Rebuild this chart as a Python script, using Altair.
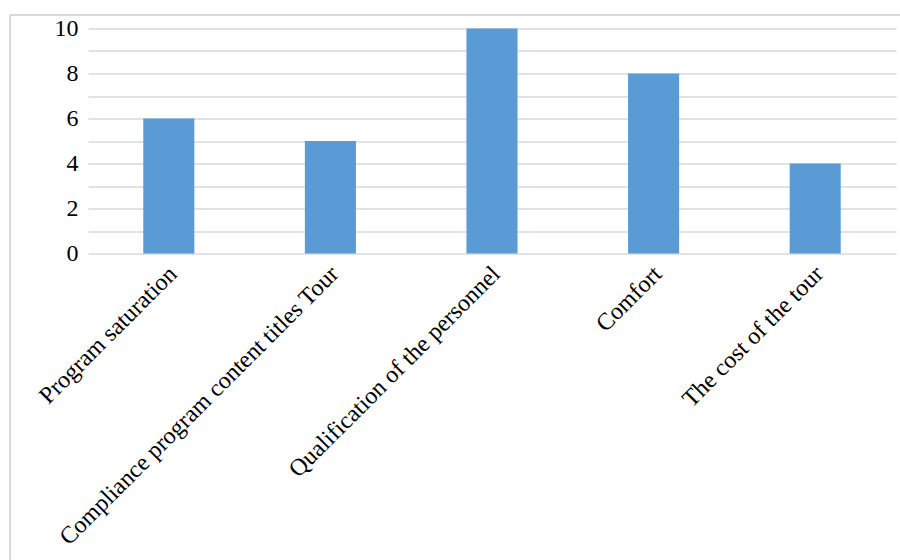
import altair as alt
import pandas as pd

categories = [
    "Program saturation",
    "Compliance program content titles Tour",
    "Qualification of the personnel",
    "Comfort",
    "The cost of the tour",
]
values = [6, 5, 10, 8, 4]
y_ticks = list(range(0, 11))

df = pd.DataFrame({"category": categories, "value": values})

FONT = "'Times New Roman', 'Liberation Serif', Tinos, serif"
GRID = "#d9d9d9"

bars = alt.Chart(df).mark_bar(color="#5b9bd5").encode(
    x=alt.X(
        "category:N",
        sort=categories,
        scale=alt.Scale(paddingInner=0.684, paddingOuter=0.342),
        axis=alt.Axis(
            title=None,
            labelAngle=315,
            labelFont=FONT,
            labelFontSize=24,
            labelColor="black",
            labelPadding=8,
            labelOffset=-4,
            ticks=False,
            domain=False,
            labelLimit=600,
        ),
    ),
    y=alt.Y(
        "value:Q",
        scale=alt.Scale(domain=[0, 10], nice=False),
        axis=alt.Axis(
            title=None,
            values=y_ticks,
            labelExpr="datum.value % 2 == 0 ? datum.label : ''",
            labelFont=FONT,
            labelFontSize=24,
            labelColor="black",
            labelPadding=10,
            ticks=False,
            domain=False,
            grid=True,
            gridColor=GRID,
            gridWidth=1.3,
        ),
    ),
)

left_border = alt.Chart(df).mark_rule(color=GRID, strokeWidth=1.3).encode(
    x=alt.value(-78), y=alt.value(-13.5), y2=alt.value(531.5)
)
top_border = alt.Chart(df).mark_rule(color=GRID, strokeWidth=1.3).encode(
    x=alt.value(-78), x2=alt.value(812), y=alt.value(-13.5)
)

chart = (
    alt.layer(left_border, top_border, bars)
    .properties(
        width=808,
        height=225,
        autosize=alt.AutoSizeParams(type="none"),
        padding={"left": 88, "top": 28.5, "right": 4, "bottom": 306.5},
        background="white",
    )
    .configure_view(stroke=None)
)

chart.save("out.html", embed_options={"renderer": "svg", "actions": False})
